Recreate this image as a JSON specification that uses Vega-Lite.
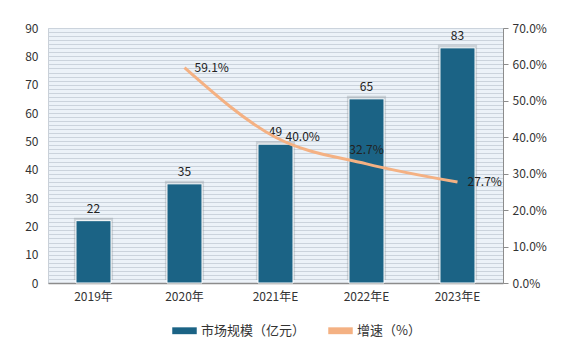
{
  "$schema": "https://vega.github.io/schema/vega-lite/v6.json",
  "autosize": {"type": "none"},
  "width": 455,
  "height": 255,
  "padding": {"left": 48, "top": 28, "right": 68, "bottom": 78},
  "background": "white",
  "config": {
    "font": "Noto Sans CJK SC",
    "view": {"fill": "#ecf2f8", "stroke": "#c9d0d8", "strokeWidth": 1},
    "axis": {"labelFont": "Noto Sans CJK SC", "labelFontSize": 12, "labelColor": "#333333", "titleFontSize": 12, "labelOverlap": false, "labelBound": false, "labelFlush": false},
    "legend": {"labelFont": "Noto Sans CJK SC", "labelFontSize": 13, "labelColor": "#333333"}
  },
  "data": {
    "values": [
      {"year": "2019年", "size": 22, "growth": null},
      {"year": "2020年", "size": 35, "growth": 0.591},
      {"year": "2021年E", "size": 49, "growth": 0.400},
      {"year": "2022年E", "size": 65, "growth": 0.327},
      {"year": "2023年E", "size": 83, "growth": 0.277}
    ]
  },
  "encoding": {
    "x": {
      "field": "year", "type": "ordinal", "sort": null, "title": null,
      "scale": {"paddingInner": 0, "paddingOuter": 0},
      "axis": {"labelAngle": 0, "ticks": false, "domainColor": "#8c8c8c", "domainWidth": 1.5, "labelPadding": 8, "grid": false}
    }
  },
  "layer": [
    {
      "encoding": {
        "y": {
          "field": "size", "type": "quantitative", "title": null,
          "scale": {"domain": [0, 90], "nice": false, "zero": true},
          "axis": {
            "orient": "left",
            "values": [0,1.4286,2.8571,4.2857,5.7143,7.1429,8.5714,10,11.4286,12.8571,14.2857,15.7143,17.1429,18.5714,20,21.4286,22.8571,24.2857,25.7143,27.1429,28.5714,30,31.4286,32.8571,34.2857,35.7143,37.1429,38.5714,40,41.4286,42.8571,44.2857,45.7143,47.1429,48.5714,50,51.4286,52.8571,54.2857,55.7143,57.1429,58.5714,60,61.4286,62.8571,64.2857,65.7143,67.1429,68.5714,70,71.4286,72.8571,74.2857,75.7143,77.1429,78.5714,80,81.4286,82.8571,84.2857,85.7143,87.1429,88.5714,90],
            "labelExpr": "abs(datum.value/10 - round(datum.value/10)) < 0.001 ? format(datum.value, 'd') : ''",
            "grid": true, "gridColor": "#cbd3dc", "gridWidth": 1,
            "ticks": false, "domain": false, "labelPadding": 10
          }
        }
      },
      "layer": [
        {
          "mark": {"type": "bar", "color": "#8f979f", "opacity": 0.35, "width": {"band": 0.43}, "yOffset": -3}
        },
        {
          "mark": {"type": "bar", "width": {"band": 0.385}, "stroke": "#ffffff", "strokeWidth": 1},
          "encoding": {
            "color": {
              "datum": "市场规模（亿元）",
              "scale": {"domain": ["市场规模（亿元）", "增速（%）"], "range": ["#1b6385", "#f4b183"]},
              "legend": {
                "title": null,
                "orient": "none",
                "direction": "horizontal",
                "legendX": 118,
                "legendY": 284,
                "symbolType": "M-1,-0.28H1V0.28H-1Z",
                "symbolSize": 600,
                "symbolStrokeWidth": 0,
                "columnPadding": 22,
                "labelOffset": 4,
                "padding": 6,
                "fillColor": "#ffffff",
                "encode": {
                  "symbols": {"update": {"fill": {"scale": "color", "field": "value"}, "stroke": {"scale": "color", "field": "value"}, "strokeWidth": {"value": 0}}}
                }
              }
            }
          }
        },
        {
          "mark": {"type": "text", "baseline": "bottom", "dy": -5, "fontSize": 12, "color": "#222222"},
          "encoding": {
            "text": {"field": "size", "type": "quantitative"}
          }
        }
      ]
    },
    {
      "transform": [{"filter": "datum.growth != null"}],
      "encoding": {
        "y": {
          "field": "growth", "type": "quantitative", "title": null,
          "scale": {"domain": [0, 0.7], "nice": false},
          "axis": {
            "orient": "right", "format": ".1%", "values": [0,0.1,0.2,0.3,0.4,0.5,0.6,0.7],
            "grid": false, "domain": true, "domainColor": "#8c8c8c", "ticks": true, "tickColor": "#8c8c8c",
            "tickSize": 5, "labelPadding": 4
          }
        }
      },
      "layer": [
        {
          "mark": {"type": "line", "interpolate": "monotone", "strokeWidth": 3},
          "encoding": {
            "color": {"datum": "增速（%）"}
          }
        },
        {
          "transform": [{"filter": "datum.year != '2022年E'"}],
          "mark": {"type": "text", "align": "left", "baseline": "middle", "dx": 10, "fontSize": 12, "color": "#222222"},
          "encoding": {
            "text": {"field": "growth", "type": "quantitative", "format": ".1%"}
          }
        },
        {
          "transform": [{"filter": "datum.year == '2022年E'"}],
          "mark": {"type": "text", "align": "center", "baseline": "middle", "dy": -14, "fontSize": 12, "color": "#222222"},
          "encoding": {
            "text": {"field": "growth", "type": "quantitative", "format": ".1%"}
          }
        }
      ]
    }
  ],
  "resolve": {"scale": {"y": "independent"}}
}
